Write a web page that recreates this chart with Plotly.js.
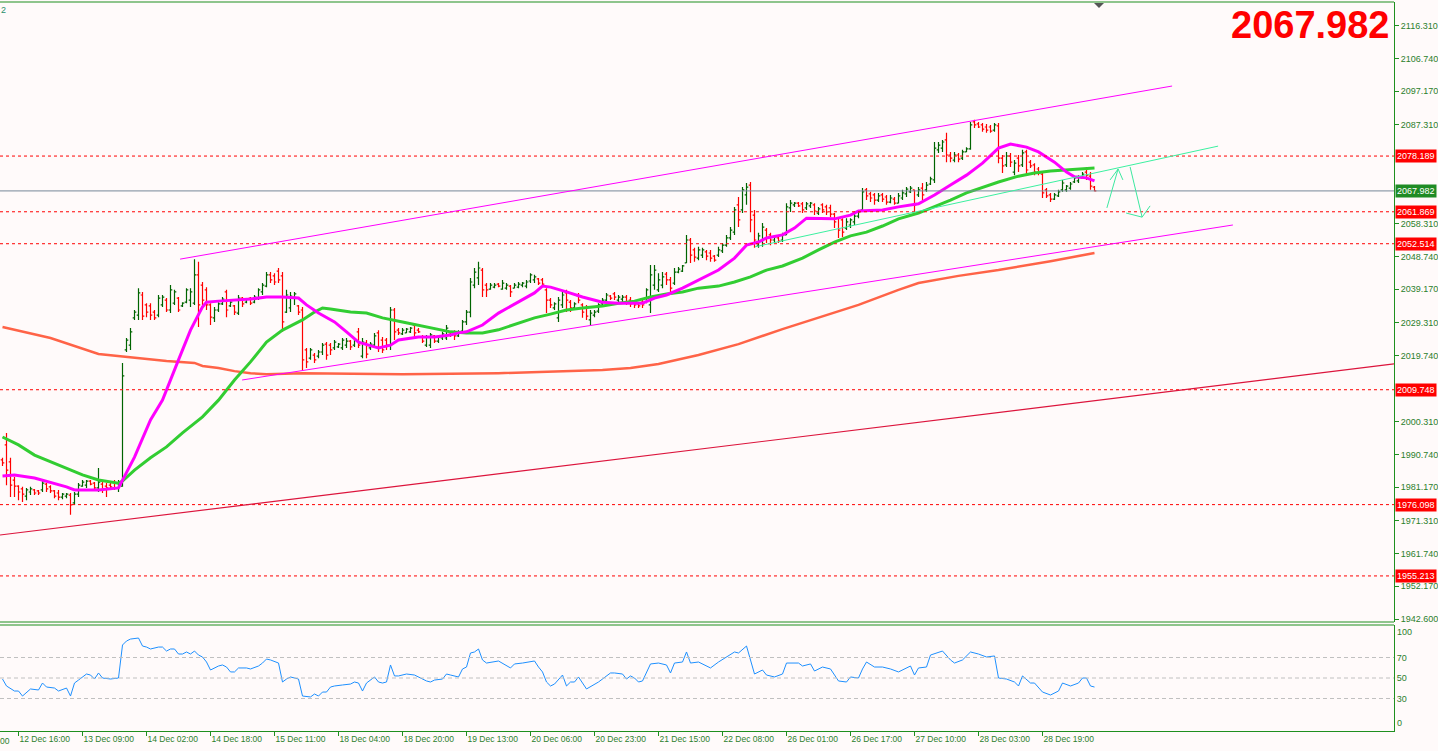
<!DOCTYPE html>
<html><head><meta charset="utf-8">
<script src="https://cdn.plot.ly/plotly-3.0.1.min.js"></script>
<style>html,body{margin:0;padding:0;background:#fffafa;}#chart{width:1438px;height:751px;}</style>
</head><body><div id="chart"></div>
<script>
// ---- OHLC (hourly bars, index 0..273) ----
const openP = [1989.2,1993.6,1988.6,1983.3,1981.5,1980.7,1978.6,1979.8,1980.4,1980.1,
1980.4,1982.1,1981.3,1980.1,1979.5,1978.3,1978.6,1978.9,1976.6,1979.2,
1981.5,1981.8,1983.0,1982.4,1981.0,1982.1,1981.5,1981.8,1982.7,1981.0,
1981.5,2021.4,2022.8,2030.8,2031.6,2037.5,2034.6,2034.3,2032.5,2031.6,
2034.6,2036.0,2033.1,2035.1,2036.6,2034.3,2035.4,2036.0,2035.1,2043.4,
2040.4,2039.0,2034.6,2030.8,2033.1,2034.9,2038.4,2034.3,2034.3,2032.2,
2036.6,2035.4,2036.6,2035.4,2036.6,2038.4,2040.1,2043.4,2043.1,2044.5,
2043.1,2032.5,2033.7,2036.6,2034.3,2033.1,2021.4,2019.0,2019.9,2019.6,
2020.8,2023.1,2022.8,2022.0,2022.3,2022.0,2022.8,2024.0,2022.8,2026.7,
2019.6,2023.4,2022.0,2022.8,2026.4,2024.3,2024.3,2022.8,2033.1,2027.2,
2026.1,2026.4,2026.7,2028.7,2027.2,2025.2,2022.8,2022.8,2025.5,2024.0,
2024.9,2024.9,2026.4,2026.7,2025.5,2026.9,2029.6,2032.5,2040.4,2042.5,
2044.8,2040.4,2039.2,2039.8,2040.7,2039.2,2039.5,2040.1,2039.5,2039.8,
2040.4,2040.1,2041.6,2041.9,2042.2,2041.9,2039.0,2036.0,2033.7,2030.8,
2034.6,2038.1,2035.4,2033.7,2037.2,2034.6,2033.7,2030.2,2031.6,2032.8,
2034.9,2036.0,2037.2,2037.8,2036.0,2036.3,2036.9,2036.0,2035.4,2034.9,
2035.4,2035.4,2034.6,2040.4,2039.0,2040.4,2043.6,2041.9,2041.0,2044.2,
2044.5,2046.9,2053.6,2050.7,2048.3,2049.2,2050.1,2049.8,2048.9,2049.2,
2050.4,2052.1,2054.2,2055.9,2063.9,2062.4,2066.8,2069.7,2060.9,2052.1,
2053.6,2056.5,2055.1,2053.6,2054.2,2053.6,2055.1,2063.0,2063.9,2064.4,
2064.2,2063.0,2063.6,2063.9,2061.5,2063.9,2063.3,2063.0,2061.2,2060.0,
2059.5,2057.1,2058.0,2058.9,2060.6,2062.4,2068.3,2067.1,2066.8,2065.3,
2066.8,2066.2,2064.7,2065.6,2064.4,2065.9,2067.1,2067.7,2068.3,2066.8,
2068.8,2068.3,2070.0,2071.2,2080.0,2080.5,2082.9,2078.5,2077.0,2078.5,
2077.6,2079.4,2080.3,2088.2,2087.6,2087.3,2086.7,2086.7,2085.8,2087.0,
2077.6,2075.6,2078.2,2073.5,2077.6,2075.6,2079.4,2076.4,2075.6,2074.4,
2072.9,2068.3,2066.8,2065.6,2066.5,2068.3,2068.3,2068.8,2070.6,2070.9,
2071.8,2073.5,2072.3,2069.1];
const highP = [1989.8,1997.1,1989.8,1984.2,1981.8,1981.3,1981.0,1981.3,1980.7,1980.4,
1983.0,1982.4,1981.8,1980.4,1980.4,1979.5,1979.5,1979.5,1979.8,1982.4,
1983.3,1983.3,1983.3,1982.7,1986.8,1982.7,1982.4,1982.4,1983.3,1983.3,
2017.6,2024.9,2027.8,2033.1,2039.5,2038.4,2035.1,2035.1,2033.1,2037.5,
2037.5,2036.6,2040.4,2039.0,2036.9,2035.4,2039.5,2039.5,2048.0,2047.2,
2041.3,2039.8,2035.1,2034.0,2035.4,2036.9,2039.0,2036.0,2034.6,2037.5,
2036.9,2036.6,2036.9,2037.5,2039.5,2041.0,2044.2,2044.2,2043.9,2045.4,
2044.2,2039.0,2038.4,2038.4,2034.6,2034.0,2022.0,2022.0,2020.5,2021.4,
2023.4,2023.7,2023.4,2024.3,2023.4,2024.9,2024.9,2024.3,2024.9,2027.8,
2024.9,2024.3,2023.7,2026.4,2027.2,2025.2,2024.9,2034.0,2033.7,2027.8,
2027.8,2027.8,2028.1,2029.3,2027.8,2025.8,2025.8,2026.4,2025.8,2025.8,
2026.7,2028.7,2026.7,2027.2,2027.2,2030.2,2033.1,2042.5,2045.4,2047.2,
2045.4,2041.0,2041.0,2041.0,2041.0,2041.9,2041.0,2040.4,2041.0,2041.3,
2041.3,2041.9,2043.9,2043.4,2042.5,2042.5,2039.5,2036.6,2035.4,2036.9,
2038.4,2039.0,2036.0,2035.4,2038.1,2035.1,2034.6,2033.1,2033.1,2035.1,
2036.6,2038.1,2037.5,2038.4,2037.5,2037.5,2037.5,2036.9,2036.0,2035.4,
2036.0,2039.5,2046.3,2046.3,2043.9,2044.2,2044.2,2042.8,2045.4,2045.7,
2046.3,2055.1,2054.2,2051.3,2051.6,2051.3,2050.7,2050.7,2049.2,2051.6,
2052.7,2055.1,2057.4,2063.3,2066.2,2069.1,2070.3,2070.6,2062.4,2055.7,
2058.6,2057.1,2055.7,2055.1,2054.5,2055.7,2064.4,2065.3,2064.7,2064.7,
2064.7,2064.7,2064.7,2064.4,2063.3,2064.4,2063.9,2063.9,2061.5,2060.3,
2060.0,2060.0,2060.0,2061.5,2062.4,2068.8,2068.8,2067.7,2067.4,2067.4,
2067.4,2066.8,2066.8,2066.2,2067.4,2068.3,2069.1,2069.4,2068.3,2069.1,
2070.3,2070.6,2072.1,2082.3,2082.3,2082.9,2085.0,2079.4,2079.4,2079.1,
2080.0,2080.8,2088.2,2088.8,2088.2,2087.9,2087.6,2087.3,2087.9,2087.9,
2078.5,2079.4,2079.1,2077.0,2078.5,2080.0,2080.0,2077.0,2076.1,2075.0,
2073.2,2068.8,2067.4,2067.4,2068.3,2071.2,2069.7,2070.6,2072.1,2072.6,
2073.5,2075.0,2073.5,2069.4];
const lowP = [1987.4,1981.8,1978.3,1978.3,1977.4,1976.9,1977.4,1978.9,1978.9,1978.9,
1979.8,1979.8,1979.5,1978.0,1977.4,1977.7,1978.0,1973.1,1976.0,1978.3,
1981.3,1981.0,1981.8,1980.4,1979.8,1979.5,1978.3,1981.0,1980.4,1979.8,
1981.3,2020.8,2021.4,2030.2,2030.2,2030.2,2031.0,2030.2,2030.2,2031.0,
2034.0,2032.5,2032.2,2034.6,2032.5,2034.0,2035.1,2034.0,2034.6,2028.1,
2034.6,2033.1,2028.7,2029.6,2032.5,2034.6,2031.0,2034.0,2031.6,2031.6,
2034.0,2035.1,2034.6,2035.1,2036.0,2037.5,2039.8,2041.0,2040.4,2041.0,
2026.7,2032.2,2032.5,2034.6,2031.6,2015.5,2016.1,2018.5,2017.6,2019.0,
2019.9,2018.5,2019.9,2021.4,2022.0,2021.4,2022.0,2021.4,2022.3,2022.0,
2019.0,2019.0,2021.4,2022.3,2020.8,2020.5,2021.4,2021.4,2024.3,2025.8,
2025.8,2026.4,2026.4,2025.2,2026.4,2023.4,2022.3,2022.0,2023.4,2023.4,
2024.3,2024.3,2025.2,2024.3,2025.2,2026.4,2028.7,2031.0,2039.5,2040.4,
2036.9,2036.9,2039.0,2039.5,2039.8,2039.0,2039.0,2036.9,2039.5,2039.5,
2039.8,2039.5,2041.0,2041.0,2040.4,2040.4,2032.2,2033.7,2033.1,2029.6,
2033.7,2032.5,2032.5,2033.1,2035.1,2030.8,2030.2,2028.7,2031.0,2032.2,
2034.6,2035.4,2036.0,2036.0,2035.4,2035.4,2034.6,2034.0,2033.7,2033.7,
2033.7,2035.1,2032.2,2039.0,2038.4,2039.5,2040.4,2038.1,2040.4,2043.9,
2044.2,2046.9,2046.9,2047.2,2047.7,2048.3,2047.7,2047.2,2047.2,2048.6,
2049.8,2051.6,2053.6,2055.1,2057.4,2061.5,2063.9,2055.9,2051.3,2051.3,
2051.6,2052.7,2052.1,2052.7,2052.7,2053.0,2055.1,2061.8,2063.3,2063.3,
2061.5,2062.4,2063.0,2060.9,2060.9,2061.5,2060.9,2060.3,2057.1,2054.2,
2054.5,2056.5,2057.1,2058.0,2060.0,2061.8,2065.3,2064.7,2063.9,2064.7,
2064.7,2063.9,2064.4,2063.9,2064.4,2065.3,2066.2,2067.4,2061.8,2066.2,
2065.3,2067.7,2069.7,2070.3,2079.1,2079.4,2076.4,2076.4,2076.4,2076.4,
2077.0,2079.4,2080.0,2086.4,2086.4,2085.3,2085.0,2085.0,2085.3,2076.1,
2073.2,2075.0,2075.0,2072.6,2073.5,2075.0,2072.6,2074.7,2072.6,2072.6,
2065.9,2065.9,2064.7,2065.3,2066.2,2067.7,2067.7,2068.3,2070.3,2070.3,
2071.8,2071.2,2068.3,2067.9];
const closeP = [1988.3,1986.2,1981.8,1981.5,1979.8,1979.2,1980.4,1980.7,1979.5,1979.5,
1982.4,1980.7,1980.1,1978.6,1978.3,1979.2,1979.2,1976.0,1979.2,1981.8,
1982.7,1983.0,1982.1,1981.0,1982.7,1980.7,1981.0,1981.3,1981.0,1982.4,
2013.8,2024.3,2026.7,2032.5,2038.1,2031.3,2032.5,2031.6,2030.8,2036.6,
2036.9,2033.1,2039.0,2038.4,2033.1,2035.1,2039.0,2038.4,2043.4,2034.6,
2036.0,2034.6,2031.0,2033.1,2034.9,2036.3,2033.1,2035.4,2032.5,2036.6,
2034.9,2036.3,2035.1,2036.9,2039.0,2040.4,2043.4,2041.9,2041.3,2041.9,
2029.6,2037.5,2037.2,2037.8,2032.5,2018.5,2017.9,2021.4,2018.5,2020.8,
2022.8,2019.9,2021.4,2023.7,2023.1,2024.3,2024.0,2022.3,2024.3,2022.8,
2023.7,2020.2,2023.1,2025.5,2022.0,2021.4,2022.8,2033.1,2026.7,2026.4,
2027.2,2027.5,2027.8,2026.4,2026.7,2024.0,2025.2,2025.8,2024.0,2025.2,
2026.1,2027.8,2025.8,2025.5,2026.7,2029.6,2032.5,2041.3,2044.2,2045.4,
2039.0,2039.0,2040.4,2040.4,2040.1,2041.0,2040.4,2038.4,2040.4,2040.7,
2041.0,2041.3,2043.4,2042.8,2041.0,2040.7,2036.0,2034.6,2034.9,2036.0,
2037.5,2036.0,2033.7,2034.9,2036.0,2032.5,2031.3,2032.2,2032.5,2034.6,
2036.0,2037.5,2036.6,2036.9,2036.9,2036.9,2035.4,2034.9,2034.6,2034.3,
2034.6,2039.0,2043.4,2044.8,2041.9,2042.8,2041.9,2039.5,2044.2,2045.1,
2046.0,2053.6,2049.2,2048.6,2050.7,2050.7,2048.9,2048.3,2047.7,2050.7,
2052.1,2054.2,2056.5,2062.4,2059.5,2068.3,2069.1,2059.5,2053.6,2054.8,
2057.4,2054.2,2053.6,2054.5,2053.3,2055.1,2063.3,2064.4,2064.4,2063.6,
2062.4,2064.2,2064.4,2062.1,2062.7,2062.4,2061.8,2061.2,2058.9,2056.5,
2055.9,2058.9,2059.5,2060.6,2061.8,2067.7,2066.5,2065.9,2065.3,2066.5,
2065.6,2064.7,2065.9,2064.4,2066.5,2067.4,2068.5,2068.8,2063.9,2068.3,
2066.8,2069.7,2071.5,2080.5,2081.4,2082.3,2078.5,2077.6,2078.5,2077.3,
2079.4,2080.3,2087.3,2087.3,2086.7,2086.1,2085.8,2085.5,2087.3,2077.6,
2075.3,2078.2,2076.4,2076.1,2075.3,2079.1,2074.1,2075.3,2073.5,2073.2,
2067.4,2066.5,2065.6,2066.8,2067.7,2070.3,2069.4,2070.0,2071.8,2072.1,
2072.9,2072.6,2069.4,2067.982];

// ---- time axis labels (bar index -> label) ----
const tickIdx = [4,20,36,52,68,84,100,116,132,148,164,180,196,212,228,244,260];
const tickLabels = ['12 Dec 16:00','13 Dec 09:00','14 Dec 02:00','14 Dec 18:00','15 Dec 11:00','18 Dec 04:00','18 Dec 20:00','19 Dec 13:00','20 Dec 06:00','20 Dec 23:00','21 Dec 15:00','22 Dec 08:00','26 Dec 01:00','26 Dec 17:00','27 Dec 10:00','28 Dec 03:00','28 Dec 19:00'];

// ---- price scale ticks (those hidden under level tags in the reference are omitted) ----
const priceTicks = [2116.310,2106.740,2097.170,2087.310,2058.310,2048.740,2039.170,2029.310,2019.740,2000.310,1990.740,1981.170,1971.310,1961.740,1952.170,1942.600];

// ---- horizontal levels ----
const levelPrices = [2078.189,2061.869,2052.514,2009.748,1976.098,1955.213];
const lastPrice = 2067.982;

// ---- moving averages (read at sample bars) ----
const fastIdx = [0,3,8,12,16,18,24,29,33,37,40,44,47,50,51,54,58,62,66,70,74,76,79,83,86,89,93,94,97,99,104,108,112,114,116,120,124,129,133,135,137,141,145,150,154,158,160,163,166,170,174,179,183,186,189,191,195,198,201,204,208,212,214,220,224,229,233,237,241,245,249,252,256,259,263,266,268,271,273];
const fastVal = [1984.5,1984.8,1983.9,1982.7,1981.3,1980.4,1980.4,1981.0,1990.0,2000.9,2006.7,2018.5,2027.2,2034.0,2035.4,2035.7,2036.0,2036.3,2036.9,2036.9,2036.6,2034.6,2032.2,2029.6,2026.7,2023.7,2022.3,2022.0,2022.8,2024.3,2025.2,2025.2,2025.8,2026.4,2026.7,2028.7,2032.2,2035.4,2038.1,2040.1,2039.8,2038.4,2036.9,2035.4,2035.1,2035.1,2035.1,2036.6,2037.5,2039.5,2041.9,2044.8,2048.3,2052.1,2053.0,2054.2,2055.1,2057.1,2060.0,2060.0,2059.8,2060.9,2062.1,2062.4,2063.3,2064.2,2066.8,2069.7,2072.6,2076.1,2080.5,2081.7,2080.8,2079.4,2076.4,2073.5,2072.1,2071.8,2070.9];
const slowIdx = [0,4,8,12,16,20,24,29,30,33,37,41,45,50,54,58,62,66,70,75,78,80,82,87,91,95,100,104,108,112,116,120,124,129,133,137,141,145,150,154,158,162,166,170,174,179,183,187,191,195,200,204,208,212,216,220,224,229,233,237,241,245,249,254,258,262,266,270,273];
const slowVal = [1995.9,1993.6,1990.6,1988.6,1986.8,1984.8,1983.3,1982.4,1983.0,1986.2,1989.8,1993.0,1997.1,2001.8,2006.7,2012.6,2017.9,2023.7,2027.2,2030.2,2032.5,2033.7,2033.4,2032.5,2032.2,2030.8,2029.6,2028.7,2027.8,2026.7,2026.4,2026.4,2027.3,2029.3,2030.8,2031.9,2033.1,2033.7,2034.3,2035.1,2035.7,2036.9,2037.8,2038.4,2039.5,2040.1,2041.3,2042.8,2044.8,2046.0,2048.3,2050.7,2053.0,2054.8,2055.9,2057.7,2059.8,2061.5,2063.3,2065.3,2067.4,2069.1,2070.6,2072.3,2073.2,2073.8,2074.1,2074.4,2074.7];
const longIdx = [0,12,24,36,41,48,50,54,58,62,66,75,100,124,150,157,164,174,184,195,204,214,224,229,239,249,262,273];
const longVal = [2028.1,2024.9,2020.2,2018.7,2018.2,2017.6,2016.7,2016.1,2015.2,2014.6,2014.3,2014.6,2014.3,2014.6,2015.5,2016.1,2017.3,2019.9,2023.1,2027.5,2030.8,2034.6,2039.0,2041.0,2043.1,2044.8,2047.4,2049.8];

// ---- RSI (read at sample bars) ----
const rsiIdx = [0,1,3,4,5,6,7,9,10,11,13,14,16,17,18,19,21,22,23,24,25,27,29,30,31,32,34,35,36,37,39,40,41,42,43,44,45,46,47,48,49,50,51,52,54,55,56,57,58,59,61,62,64,65,66,67,69,70,71,72,74,75,77,78,79,80,81,82,83,85,87,88,89,90,91,93,94,95,96,97,98,99,101,103,104,106,107,108,110,111,112,114,115,116,117,118,119,120,121,123,124,127,128,130,132,133,134,135,136,137,138,140,141,142,143,144,146,148,149,152,153,155,156,157,158,159,160,162,164,166,167,168,170,171,172,174,175,177,179,181,183,184,186,188,190,191,193,195,196,199,200,202,203,205,207,209,211,212,214,215,216,218,220,222,224,227,228,229,231,232,235,237,238,240,242,244,246,248,249,251,253,254,255,257,258,260,262,264,265,267,269,270,271,272,273];
const rsiVal = [49.0,42.2,37.3,37.3,32.4,36.3,39.3,38.3,45.1,41.2,40.2,37.3,40.2,32.4,45.1,48.0,53.9,52.9,49.0,54.9,50.0,49.0,50.0,82.2,86.1,88.0,89.0,81.2,80.2,78.3,80.2,80.2,76.3,78.3,78.3,73.4,73.4,75.4,73.4,76.3,72.4,70.5,65.6,57.8,61.7,62.7,60.7,55.9,55.9,59.8,59.8,58.8,61.7,64.6,68.5,67.6,64.6,46.1,49.0,51.0,49.0,32.4,31.5,34.4,32.4,36.3,36.3,41.2,42.2,43.2,44.1,46.1,45.1,37.3,45.1,51.0,46.1,45.1,46.1,62.7,52.0,52.0,53.9,52.9,51.0,47.1,46.1,48.0,49.0,53.9,52.9,51.0,58.8,60.7,74.4,75.4,78.3,67.6,64.6,65.6,66.6,59.8,63.7,64.6,65.6,66.6,60.7,55.9,46.1,42.2,44.1,52.9,42.2,46.1,46.1,51.0,39.3,44.1,46.1,54.9,54.9,53.9,49.0,52.0,50.0,46.1,47.1,63.7,64.6,62.7,54.9,64.6,65.6,75.4,64.6,65.6,63.7,59.8,65.6,70.5,75.4,74.4,81.2,53.9,57.8,52.9,51.0,53.9,64.6,64.6,61.7,63.7,56.8,60.7,58.8,47.1,46.1,51.0,50.0,58.8,65.6,60.7,60.7,58.8,55.9,61.7,52.9,59.8,60.7,72.4,76.3,67.6,64.6,67.6,75.4,73.4,70.5,71.5,50.0,49.0,46.1,42.2,52.0,45.1,45.1,36.3,33.4,37.3,45.1,42.2,45.1,50.0,50.0,42.2,41.2];
const rsiLevels = [70,50,30];

// ---- drawn objects: [barIndex, price] endpoints ----
const channelUpper = [[44.4,2048.0],[292.4,2098.7]];
const channelLower = [[59.9,2012.6],[307.6,2058.0]];
const longTrend = [[-0.625,1967.2],[347.875,2017.3]];
const shortTrend = [[188.1,2051.6],[303.9,2081.1]];
const arrowSegs = [
  [[276.1,2063.0],[278.9,2074.4]], [[276.9,2071.2],[278.9,2074.4]], [[278.9,2074.4],[280.1,2071.2]],
  [[281.9,2075.0],[284.9,2060.3]], [[280.9,2061.5],[284.9,2060.3]], [[284.9,2060.3],[286.9,2063.6]]
];

// ================= drawing =================
const GREEN = '#1f8f1f';
const TXT = '#2c802c';
const FONT = 'Liberation Sans, Arial, sans-serif';
const barIdx = openP.map((_, i) => i);

const traces = [
  {type:'ohlc', x:barIdx, open:openP, high:highP, low:lowP, close:closeP, xaxis:'x', yaxis:'y',
   increasing:{line:{color:'#006400', width:1.2}}, decreasing:{line:{color:'#ff0000', width:1.2}},
   tickwidth:0.45, hoverinfo:'skip'},
  {type:'scatter', mode:'lines', x:longIdx, y:longVal, xaxis:'x', yaxis:'y', line:{color:'#ff6347', width:2.5}, hoverinfo:'skip'},
  {type:'scatter', mode:'lines', x:slowIdx, y:slowVal, xaxis:'x', yaxis:'y', line:{color:'#32cd32', width:3}, hoverinfo:'skip'},
  {type:'scatter', mode:'lines', x:fastIdx, y:fastVal, xaxis:'x', yaxis:'y', line:{color:'#ff00ff', width:3}, hoverinfo:'skip'},
  {type:'scatter', mode:'lines', x:rsiIdx, y:rsiVal, xaxis:'x', yaxis:'y2', line:{color:'#1e90ff', width:1}, hoverinfo:'skip'}
];

const shapes = [];
function seg(p, color, width) {
  shapes.push({type:'line', xref:'x', yref:'y', x0:p[0][0], y0:p[0][1], x1:p[1][0], y1:p[1][1], line:{color:color, width:width}});
}
levelPrices.forEach(v => shapes.push({type:'line', xref:'paper', yref:'y', x0:0, x1:1, y0:v, y1:v, line:{color:'#ff0000', width:1, dash:'3px,3px'}}));
shapes.push({type:'line', xref:'paper', yref:'y', x0:0, x1:1, y0:lastPrice, y1:lastPrice, line:{color:'#778899', width:1}});
seg(channelUpper, '#ff00ff', 1);
seg(channelLower, '#ff00ff', 1);
seg(longTrend, '#dc143c', 1.2);
seg(shortTrend, '#3cf0a0', 1);
arrowSegs.forEach(s => seg(s, '#3ce8a0', 1));
rsiLevels.forEach(v => shapes.push({type:'line', xref:'paper', yref:'y2', x0:0, x1:1, y0:v, y1:v, line:{color:'#c0c0c0', width:1, dash:'4px,3px'}}));
// frame
const pyPix = y => (731 - y) / 729;
[2, 622, 625].forEach(y => shapes.push({type:'line', xref:'paper', yref:'paper', x0:0, x1:1, y0:pyPix(y), y1:pyPix(y), line:{color:GREEN, width:1}}));
// shift marker
shapes.push({type:'path', xref:'paper', yref:'paper', path:`M ${1094/1394},${pyPix(3)} L ${1104/1394},${pyPix(3)} L ${1099/1394},${pyPix(8)} Z`, fillcolor:'#555555', line:{color:'#555555', width:0}});

const annotations = [];
levelPrices.forEach(v => annotations.push({xref:'paper', yref:'y', x:1, y:v, xanchor:'left', yanchor:'middle', xshift:1, text:v.toFixed(3), showarrow:false, bgcolor:'#ff0000', borderpad:1, font:{family:FONT, size:9, color:'#ffffff'}}));
annotations.push({xref:'paper', yref:'y', x:1, y:lastPrice, xanchor:'left', yanchor:'middle', xshift:1, text:lastPrice.toFixed(3), showarrow:false, bgcolor:'#1f8b24', borderpad:1, font:{family:FONT, size:9, color:'#ffffff'}});
annotations.push({xref:'paper', yref:'paper', x:1392/1394, y:pyPix(25), xanchor:'right', yanchor:'middle', text:lastPrice.toFixed(3), showarrow:false, font:{family:FONT, size:38, weight:'bold', color:'#ff0000'}});
annotations.push({xref:'paper', yref:'y2', x:1, y:94.9, xanchor:'left', yanchor:'middle', xshift:1, text:'100', showarrow:false, font:{family:FONT, size:9, color:TXT}});
annotations.push({xref:'paper', yref:'y2', x:1, y:6.1, xanchor:'left', yanchor:'middle', xshift:1, text:'0', showarrow:false, font:{family:FONT, size:9, color:TXT}});
annotations.push({xref:'paper', yref:'paper', x:0, y:pyPix(741), xanchor:'left', yanchor:'middle', xshift:-2, text:'00', showarrow:false, font:{family:FONT, size:8.5, color:TXT}});
annotations.push({xref:'paper', yref:'paper', x:0, y:pyPix(10), xanchor:'left', yanchor:'middle', xshift:-1, text:'2', showarrow:false, font:{family:FONT, size:9, color:'#2a8f6a'}});

const layout = {
  width:1438, height:751,
  margin:{l:0, r:44, t:2, b:20},
  paper_bgcolor:'#fffafa', plot_bgcolor:'#fffafa',
  showlegend:false,
  xaxis:{range:[-0.625, 347.875], anchor:'y2', showgrid:false, zeroline:false, showline:true, linecolor:GREEN, linewidth:1,
         ticks:'outside', ticklen:4, tickcolor:GREEN, tickvals:tickIdx, ticktext:tickLabels,
         tickfont:{family:FONT, size:8.5, color:TXT}, ticklabelposition:'outside right', rangeslider:{visible:false}},
  yaxis:{domain:[pyPix(622), 1], range:[1941.72, 2123.31], side:'right', anchor:'x', showgrid:false, zeroline:false,
         showline:true, linecolor:GREEN, linewidth:1, ticks:'outside', ticklen:4, tickcolor:GREEN,
         tickvals:priceTicks, ticktext:priceTicks.map(v => v.toFixed(3)), tickfont:{family:FONT, size:9, color:TXT}},
  yaxis2:{domain:[0, pyPix(625)], range:[-1.71, 101.71], side:'right', anchor:'x', showgrid:false, zeroline:false,
          showline:true, linecolor:GREEN, linewidth:1, ticks:'', tickvals:rsiLevels, ticktext:rsiLevels.map(String),
          tickfont:{family:FONT, size:9, color:TXT}},
  shapes:shapes, annotations:annotations
};

Plotly.newPlot('chart', traces, layout, {staticPlot:true, displayModeBar:false});
</script>
</body></html>
